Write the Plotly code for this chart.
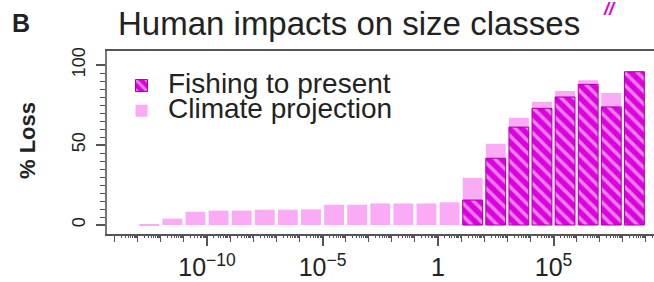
import numpy as np
import plotly.graph_objects as go

# ---- data ----
size_class_log10 = [-12.5, -11.5, -10.5, -9.5, -8.5, -7.5, -6.5, -5.5, -4.5, -3.5, -2.5,
                    -1.5, -0.5, 0.5, 1.5, 2.5, 3.5, 4.5, 5.5, 6.5, 7.5, 8.5]
climate_loss = [0.5, 4.0, 8.3, 9.0, 9.0, 9.6, 9.6, 9.8, 12.7, 12.7, 13.5,
                13.5, 13.5, 14.2, 29.6, 50.8, 67.0, 77.0, 83.7, 90.4, 82.5, 95.8]
fishing_loss = [None, None, None, None, None, None, None, None, None, None, None,
                None, None, None, 15.6, 41.7, 61.2, 72.9, 80.0, 87.9, 73.8, 95.8]
x_tick_vals = [-10, -5, 0, 5]
x_tick_text = ["10<sup>\u221210</sup>", "10<sup>\u22125</sup>", "1", "10<sup>5</sup>"]
y_tick_vals = [0, 50, 100]
legend_labels = ["Fishing to present", "Climate projection"]

PINK = "#FBAAF5"
MAGENTA = "#DC00DC"
FONT = "Liberation Sans, Arial, sans-serif"
AX = "#555555"
TXT = "#222222"

# figure is a little wider than the 654 px window so the open right side of the frame is cropped
W, H = 662, 282
ML, MR, MT, MB = 107, 0, 51, 48
PW, PH = W - ML - MR, H - MT - MB
PX_PER_DECADE = 23.1


def px_x(p):
    return (p - ML) / PW


def px_y(p):
    return (H - MB - p) / PH


XR = [-14.33, -14.33 + PW / PX_PER_DECADE]
decades = list(range(-14, 10))
minor_vals = [n + float(np.log10(k)) for n in decades for k in range(2, 10)]

fig = go.Figure()
fig.add_trace(go.Bar(
    x=size_class_log10, y=climate_loss, width=0.86, name=" ",
    marker=dict(color=PINK, line=dict(width=0)),
))
fig.add_trace(go.Bar(
    x=size_class_log10, y=fishing_loss, width=0.86, name=" ",
    marker=dict(color=MAGENTA,
                pattern=dict(shape="\\", fgcolor="white", bgcolor=MAGENTA, size=9, solidity=0.4),
                line=dict(color="#A800A8", width=1)),
))
# empty trace so the minor-tick overlay axis is drawn
fig.add_trace(go.Scatter(x=[], y=[], xaxis="x2", yaxis="y", showlegend=False, hoverinfo="skip"))

annotations = [
    dict(text="<b>% Loss</b>", xref="paper", yref="paper", x=px_x(27), y=px_y(141),
         textangle=-90, showarrow=False, font=dict(size=22, family=FONT, color=TXT),
         xanchor="center", yanchor="middle"),
    dict(text="Human impacts on size classes", xref="paper", yref="paper",
         x=px_x(116), y=px_y(23), showarrow=False, xanchor="left", yanchor="middle",
         font=dict(size=33, family=FONT, color=TXT)),
    dict(text="<b>B</b>", xref="paper", yref="paper",
         x=px_x(10), y=px_y(23), showarrow=False, xanchor="left", yanchor="middle",
         font=dict(size=25, family=FONT, color=TXT)),
    dict(text="<b><i>//</i></b>", xref="paper", yref="paper",
         x=px_x(609), y=px_y(9), showarrow=False, xanchor="center", yanchor="middle",
         font=dict(size=18, family=FONT, color=MAGENTA)),
]
for i, lab in enumerate(legend_labels):
    annotations.append(dict(text=lab, xref="paper", yref="paper", x=px_x(166), y=px_y(83 + 25 * i),
                            showarrow=False, xanchor="left", yanchor="middle",
                            font=dict(size=28, family=FONT, color=TXT)))

fig.update_layout(
    width=W, height=H,
    margin=dict(l=ML, r=MR, t=MT, b=MB, autoexpand=False),
    paper_bgcolor="white", plot_bgcolor="white",
    barmode="overlay",
    font=dict(family=FONT, color=TXT),
    showlegend=True,
    legend=dict(x=px_x(121.5), y=px_y(68), xanchor="left", yanchor="top",
                bgcolor="rgba(0,0,0,0)", traceorder="reversed",
                font=dict(size=17, family=FONT, color=TXT), borderwidth=0),
    xaxis=dict(range=XR, tickmode="array", tickvals=x_tick_vals, ticktext=x_tick_text,
               ticks="outside", ticklen=10, tickwidth=1.5, tickcolor=AX,
               showline=True, linecolor=AX, linewidth=2, mirror=True, automargin=False,
               showgrid=False, zeroline=False, ticklabelstandoff=0,
               tickfont=dict(size=25, family=FONT, color=TXT),
               minor=dict(tickmode="array", tickvals=decades, ticks="outside", ticklen=6,
                          tickwidth=1.3, tickcolor=AX, showgrid=False)),
    xaxis2=dict(range=XR, overlaying="x", anchor="y", side="bottom", automargin=False,
                tickmode="array", tickvals=minor_vals, ticks="outside", ticklen=3,
                tickwidth=1, tickcolor=AX, showticklabels=False, showline=False,
                showgrid=False, zeroline=False),
    yaxis=dict(range=[-5.6, 108.75], tickmode="array", tickvals=y_tick_vals,
               ticks="outside", ticklen=9, tickwidth=1.5, tickcolor=AX, tickangle=-90,
               showline=True, linecolor="#777777", linewidth=1.5, mirror=False, automargin=False,
               showgrid=False, zeroline=False, ticklabelstandoff=4,
               tickfont=dict(size=18, family=FONT, color=TXT),
               minor=dict(tickmode="array", tickvals=list(range(0, 101, 5)), ticks="outside",
                          ticklen=5, tickwidth=1.3, tickcolor=AX, showgrid=False)),
    annotations=annotations,
)

fig.write_html("out.html", config={"displayModeBar": False},
               post_script="document.body.style.margin='0';document.body.style.padding='0';"
                           "document.body.style.overflow='hidden';"
                           "document.documentElement.style.overflow='hidden';")
